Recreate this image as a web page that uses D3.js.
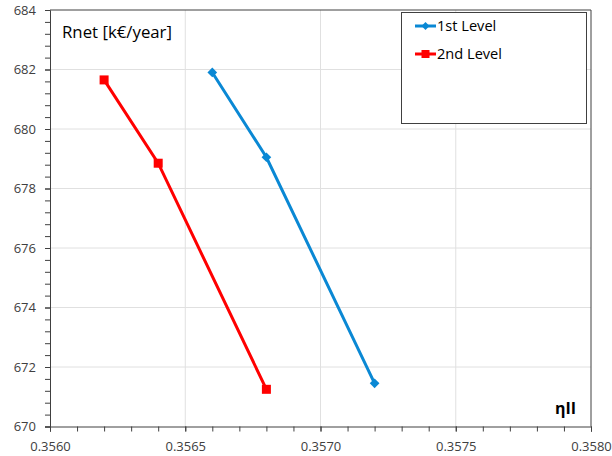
<!DOCTYPE html>
<html>
<head>
<meta charset="utf-8">
<script src="https://cdn.jsdelivr.net/npm/d3@7"></script>
<style>
  body { margin: 0; background: #fff; }
  svg { font-family: "Open Sans", "Liberation Sans", sans-serif; }
</style>
</head>
<body>
<svg id="chart" width="612" height="456"></svg>
<script>
// data
var level1X = [0.3566, 0.3568, 0.3572];
var level1Y = [681.9, 679.05, 671.45];
var level2X = [0.3562, 0.3564, 0.3568];
var level2Y = [681.65, 678.85, 671.25];
var seriesNames = ["1st Level", "2nd Level"];
var xTicks = [0.3560, 0.3565, 0.3570, 0.3575, 0.3580];
var yTicks = [670, 672, 674, 676, 678, 680, 682, 684];

var svg = d3.select("#chart");
var pLeft = 50, pRight = 591, pTop = 10, pBottom = 426.5;

var x = d3.scaleLinear().domain([0.3560, 0.3580]).range([pLeft, pRight]);
var y = d3.scaleLinear().domain([670, 684]).range([pBottom, pTop]);

// grid
svg.append("g").selectAll("line").data(xTicks.slice(1, -1)).join("line")
    .attr("x1", d => x(d)).attr("x2", d => x(d))
    .attr("y1", pTop).attr("y2", pBottom)
    .attr("stroke", "#e0e0e0").attr("stroke-width", 1);
svg.append("g").selectAll("line").data(yTicks.slice(1, -1)).join("line")
    .attr("x1", pLeft).attr("x2", pRight)
    .attr("y1", d => y(d)).attr("y2", d => y(d))
    .attr("stroke", "#e0e0e0").attr("stroke-width", 1);

// plot border (top and right)
svg.append("path")
    .attr("d", "M" + pLeft + "," + pTop + "H" + pRight + "V" + pBottom)
    .attr("fill", "none").attr("stroke", "#404040").attr("stroke-width", 1);

// axes
var xMinor = d3.range(0, 21).map(i => 0.3560 + i * 0.0001);
var yMinor = d3.range(0, 36).map(i => 670 + i * 0.4);

var xAxis = svg.append("g").attr("transform", "translate(0," + pBottom + ")")
    .call(d3.axisBottom(x).tickValues(xMinor).tickSize(5).tickFormat(""));
xAxis.select(".domain").attr("stroke", "#404040");
xAxis.selectAll(".tick line").attr("stroke", "#404040");
svg.append("g").attr("transform", "translate(0," + pBottom + ")")
    .call(d3.axisBottom(x).tickValues(xTicks).tickSize(5).tickPadding(10).tickFormat(d3.format(".4f")))
    .call(g => g.select(".domain").remove())
    .call(g => g.selectAll(".tick line").attr("stroke", "#404040"))
    .call(g => g.selectAll("text").attr("font-size", 13).attr("fill", "#404040")
        .attr("font-family", "Open Sans, sans-serif"));

var yAxis = svg.append("g").attr("transform", "translate(" + pLeft + ",0)")
    .call(d3.axisLeft(y).tickValues(yMinor).tickSize(5).tickFormat(""));
yAxis.select(".domain").attr("stroke", "#404040");
yAxis.selectAll(".tick line").attr("stroke", "#404040");
svg.append("g").attr("transform", "translate(" + pLeft + ",0)")
    .call(d3.axisLeft(y).tickValues(yTicks).tickSize(5).tickPadding(9).tickFormat(d3.format("d")))
    .call(g => g.select(".domain").remove())
    .call(g => g.selectAll(".tick line").attr("stroke", "#404040"))
    .call(g => g.selectAll("text").attr("font-size", 13).attr("fill", "#404040")
        .attr("font-family", "Open Sans, sans-serif"));

// series
var line = d3.line().x(d => x(d[0])).y(d => y(d[1]));
var data1 = d3.zip(level1X, level1Y);
var data2 = d3.zip(level2X, level2Y);

svg.append("path").datum(data1).attr("d", line)
    .attr("fill", "none").attr("stroke", "#0a88d4").attr("stroke-width", 3);
svg.append("path").datum(data2).attr("d", line)
    .attr("fill", "none").attr("stroke", "#ff0000").attr("stroke-width", 3);

var diamond = d3.symbol().type(d3.symbolDiamond2).size(60);
svg.append("g").selectAll("path").data(data1).join("path")
    .attr("transform", d => "translate(" + x(d[0]) + "," + y(d[1]) + ")")
    .attr("d", diamond).attr("fill", "#0a88d4");
svg.append("g").selectAll("rect").data(data2).join("rect")
    .attr("x", d => x(d[0]) - 4.5).attr("y", d => y(d[1]) - 4.5)
    .attr("width", 9).attr("height", 9).attr("fill", "#ff0000");

// titles
svg.append("text").attr("x", 62).attr("y", 38)
    .attr("font-size", 16.8).attr("fill", "#000").text("Rnet [k€/year]");
svg.append("text").attr("x", 555).attr("y", 414)
    .attr("font-size", 16).attr("font-weight", "bold").attr("fill", "#000").text("ηII");

// legend
var lg = svg.append("g");
lg.append("rect").attr("x", 401.5).attr("y", 12.5).attr("width", 185).attr("height", 111)
    .attr("fill", "#fff").attr("stroke", "#404040").attr("stroke-width", 1);
var colors = ["#0a88d4", "#ff0000"];
seriesNames.forEach(function (name, i) {
    var ly = 26 + i * 28;
    lg.append("line").attr("x1", 415).attr("x2", 436).attr("y1", ly).attr("y2", ly)
        .attr("stroke", colors[i]).attr("stroke-width", 3);
    if (i === 0) {
        lg.append("path").attr("transform", "translate(425.5," + ly + ")")
            .attr("d", d3.symbol().type(d3.symbolDiamond2).size(40)).attr("fill", colors[i]);
    } else {
        lg.append("rect").attr("x", 421.5).attr("y", ly - 4).attr("width", 8).attr("height", 8)
            .attr("fill", colors[i]);
    }
    lg.append("text").attr("x", 437).attr("y", ly + 5).attr("font-size", 14.6)
        .attr("fill", "#000").text(name);
});
</script>
</body>
</html>
